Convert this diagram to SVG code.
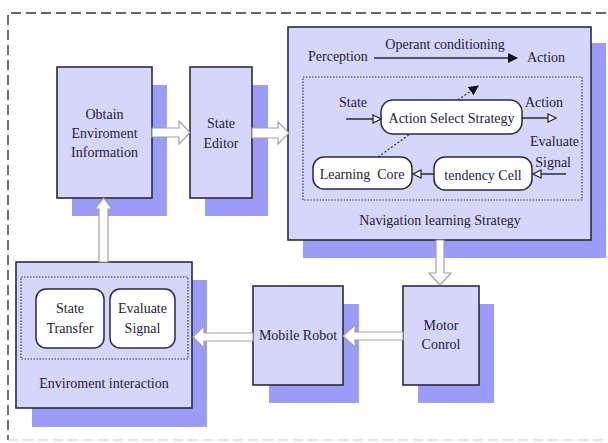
<svg xmlns="http://www.w3.org/2000/svg" width="608" height="443" viewBox="0 0 608 443" font-family="'Liberation Serif', 'DejaVu Serif', serif">
<style>
text{font-family:'Liberation Serif','DejaVu Serif',serif;font-size:14px;fill:#22223a}
.c{text-anchor:middle}
.e{text-anchor:end}
.shadow{fill:#9c9cf6}
.box{fill:#d6d6fb;stroke:#2a2a3c;stroke-width:1.6}
.rbox{fill:#ffffff;stroke:#2a2a3c;stroke-width:1.5}
.dot{fill:none;stroke:#3a3a4c;stroke-width:1.2;stroke-dasharray:1.5 1.5}
.blk{fill:#ffffff;stroke:#a0a0a8;stroke-width:1.2}
.ln{stroke:#2a2a3c;stroke-width:1.5;fill:none}
.dl{stroke:#2a2a3c;stroke-width:1.2;stroke-dasharray:2 2;fill:none}
</style>
<defs>
<marker id="fh" markerWidth="10" markerHeight="10" refX="9" refY="5" orient="auto" markerUnits="userSpaceOnUse">
<path d="M0,0 L10,5 L0,10 Z" fill="#111"/>
</marker>
<marker id="hh" markerWidth="10" markerHeight="10" refX="9" refY="5" orient="auto" markerUnits="userSpaceOnUse">
<path d="M1,1 L9,5 L1,9 Z" fill="#ffffff" stroke="#2a2a3c" stroke-width="1.3"/>
</marker>
</defs>
<rect width="608" height="443" fill="#ffffff"/>
<g id="frame">
<path d="M606,13 H8 V440" fill="none" stroke="#333" stroke-width="1.4" stroke-dasharray="10 5"/>
<path d="M8,440 H606" fill="none" stroke="#c8c8c8" stroke-width="1.2" stroke-dasharray="10 5"/>
</g>
<g id="obtain">
<rect class="shadow" x="72" y="85" width="95" height="131"/>
<rect class="box" x="57" y="67" width="95" height="131"/>
<text class="c" x="104.5" y="119">Obtain</text>
<text class="c" x="104.5" y="138">Enviroment</text>
<text class="c" x="104.5" y="157">Information</text>
</g>
<g id="state-editor">
<rect class="shadow" x="205" y="85" width="63" height="131"/>
<rect class="box" x="190" y="67" width="62" height="131"/>
<text class="c" x="221" y="128">State</text>
<text class="c" x="221" y="148">Editor</text>
</g>
<g id="navigation">
<rect class="shadow" x="303" y="43" width="303" height="215"/>
<rect class="box" x="288" y="27" width="303" height="213"/>
<text x="308" y="61">Perception</text>
<text class="c" x="445" y="49">Operant conditioning</text>
<text x="527" y="62">Action</text>
<rect class="dot" x="303" y="77" width="279" height="123"/>
<text x="339" y="107">State</text>
<text x="525" y="107">Action</text>
<text class="e" x="579" y="146">Evaluate</text>
<text class="e" x="571" y="167">Signal</text>
<text class="c" x="440" y="225">Navigation learning Strategy</text>
</g>
<g id="action-select">
<rect class="rbox" x="381" y="100" width="141" height="34" rx="12"/>
<text class="c" x="451.5" y="123">Action Select Strategy</text>
</g>
<g id="learning-core">
<rect class="rbox" x="313" y="157" width="99" height="32" rx="11"/>
<text class="c" x="362" y="179" style="white-space:pre">Learning  Core</text>
</g>
<g id="tendency-cell">
<rect class="rbox" x="434" y="157" width="98" height="33" rx="11"/>
<text class="c" x="483" y="180">tendency Cell</text>
</g>
<g id="motor-control">
<rect class="shadow" x="418" y="304" width="76" height="99"/>
<rect class="box" x="403" y="286" width="76" height="99"/>
<text class="c" x="441" y="330">Motor</text>
<text class="c" x="441" y="349">Conrol</text>
</g>
<g id="mobile-robot">
<rect class="shadow" x="269" y="304" width="90" height="99"/>
<rect class="box" x="253" y="286" width="90" height="99"/>
<text class="c" x="298" y="340">Mobile Robot</text>
</g>
<g id="env-interaction">
<rect class="shadow" x="32" y="280" width="175" height="147"/>
<rect class="box" x="16" y="262" width="176" height="146"/>
<rect class="dot" x="21" y="277" width="167" height="82"/>
<rect class="rbox" x="36" y="289" width="68" height="59" rx="10"/>
<rect class="rbox" x="110" y="289" width="65" height="59" rx="10"/>
<text class="c" x="70" y="313">State</text>
<text class="c" x="70" y="333">Transfer</text>
<text class="c" x="142.5" y="313">Evaluate</text>
<text class="c" x="142.5" y="333">Signal</text>
<text class="c" x="104" y="388">Enviroment interaction</text>
</g>
<g id="connectors">
<path class="blk" d="M152,128 H179 V121 L190,132.5 L179,144 V137 H152 Z"/>
<path class="blk" d="M252,128 H278 V122 L289,133 L278,144 V138 H252 Z"/>
<path class="blk" d="M436,240 V273 H429 L440,285 L451,273 H444 V240 Z"/>
<path class="blk" d="M403,332 H355 V325 L343,336 L355,347 V340 H403 Z"/>
<path class="blk" d="M253,333 H204 V326 L193,337 L204,348 V341 H253 Z"/>
<path class="blk" d="M99,262 V209 H95 L103.5,198 L112,209 H108 V262 Z"/>
<line class="ln" x1="374" y1="58" x2="517" y2="58" marker-end="url(#fh)"/>
<line class="ln" x1="346" y1="119" x2="381" y2="119" marker-end="url(#hh)"/>
<line class="ln" x1="522" y1="118" x2="556" y2="118" marker-end="url(#hh)"/>
<line class="ln" x1="566" y1="174" x2="533" y2="174" marker-end="url(#hh)"/>
<line class="ln" x1="434" y1="174" x2="413" y2="174" marker-end="url(#hh)"/>
<line class="dl" x1="378" y1="157" x2="410" y2="134"/>
<line class="dl" x1="458" y1="100" x2="478" y2="86" marker-end="url(#fh)"/>
</g>
</svg>
